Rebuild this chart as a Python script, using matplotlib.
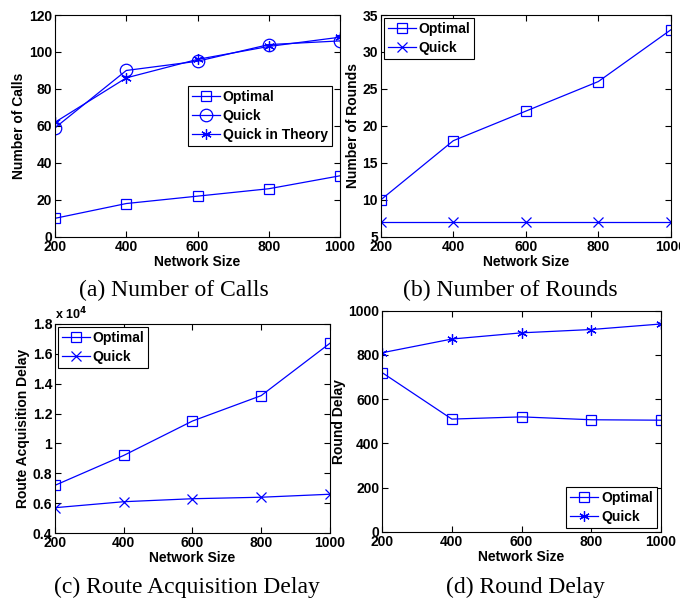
import matplotlib
matplotlib.use('Agg')
import matplotlib.pyplot as plt
from matplotlib.ticker import FuncFormatter

# network sizes
sizes = [200, 400, 600, 800, 1000]

# (a) number of calls
calls_optimal = [10, 18, 22, 26, 33]
calls_quick = [59, 90, 95, 104, 106]
calls_theory = [62, 86, 96, 103, 108]

# (b) number of rounds
rounds_optimal = [10, 18, 22, 26, 33]
rounds_quick = [7, 7, 7, 7, 7]

# (c) route acquisition delay
acq_optimal = [7200, 9200, 11500, 13200, 16700]
acq_quick = [5700, 6100, 6300, 6400, 6600]

# (d) round delay
rdelay_optimal = [720, 510, 520, 507, 505]
rdelay_quick = [810, 872, 900, 915, 940]

plt.rcParams['font.family'] = 'Liberation Sans'
plt.rcParams['font.weight'] = 'bold'
plt.rcParams['font.size'] = 10

fig = plt.figure(figsize=(6.8, 6.01), dpi=100)

ax_a = fig.add_axes([0.081, 0.606, 0.419, 0.369])
ax_b = fig.add_axes([0.560, 0.606, 0.4265, 0.369])
ax_c = fig.add_axes([0.081, 0.113, 0.404, 0.348])
ax_d = fig.add_axes([0.562, 0.115, 0.410, 0.368])

blue = '#0000ff'
ms = 7.5
lw = 0.9
aster = (6, 2, 0)

def style(ax, ylabel):
    ax.set_xlim(200, 1000)
    ax.set_xticks(sizes)
    ax.tick_params(direction='in', top=True, right=True, length=4, width=0.8, labelsize=10, pad=2)
    for lab in ax.get_xticklabels() + ax.get_yticklabels():
        lab.set_fontweight('bold')
    ax.set_xlabel('Network Size', fontsize=10, fontweight='bold', labelpad=1)
    ax.set_ylabel(ylabel, fontsize=10, fontweight='bold', labelpad=2)
    for s in ax.spines.values():
        s.set_linewidth(0.8)

def legend(ax, loc, **kw):
    leg = ax.legend(loc=loc, fancybox=False, edgecolor='black', framealpha=1,
                    prop={'weight': 'bold', 'size': 10}, handlelength=2.0,
                    handletextpad=0.2, borderpad=0.3, labelspacing=0.35, **kw)
    leg.get_frame().set_linewidth(0.8)

fmt = FuncFormatter(lambda v, p: '%g' % v)

# (a)
ax_a.plot(sizes, calls_optimal, color=blue, lw=lw, marker='s', ms=ms, mfc='none', mew=0.9, label='Optimal')
ax_a.plot(sizes, calls_quick, color=blue, lw=lw, marker='o', ms=9, mfc='none', mew=0.9, label='Quick')
ax_a.plot(sizes, calls_theory, color=blue, lw=lw, marker=aster, ms=ms, mew=0.9, label='Quick in Theory')
ax_a.set_ylim(0, 120)
ax_a.set_yticks([0, 20, 40, 60, 80, 100, 120])
style(ax_a, 'Number of Calls')
legend(ax_a, 'center right', bbox_to_anchor=(0.972, 0.545), borderaxespad=0)

# (b)
ax_b.plot(sizes, rounds_optimal, color=blue, lw=lw, marker='s', ms=ms, mfc='none', mew=0.9, label='Optimal')
ax_b.plot(sizes, rounds_quick, color=blue, lw=lw, marker='x', ms=ms, mew=0.9, label='Quick')
ax_b.set_ylim(5, 35)
ax_b.set_yticks([5, 10, 15, 20, 25, 30, 35])
style(ax_b, 'Number of Rounds')
legend(ax_b, 'upper left', borderaxespad=0.2)

# (c)
ax_c.plot(sizes, [v / 1e4 for v in acq_optimal], color=blue, lw=lw, marker='s', ms=ms, mfc='none', mew=0.9, label='Optimal')
ax_c.plot(sizes, [v / 1e4 for v in acq_quick], color=blue, lw=lw, marker='x', ms=ms, mew=0.9, label='Quick')
ax_c.set_ylim(0.4, 1.8)
ax_c.set_yticks([0.4, 0.6, 0.8, 1.0, 1.2, 1.4, 1.6, 1.8])
ax_c.yaxis.set_major_formatter(fmt)
style(ax_c, 'Route Acquisition Delay')
ax_c.text(0.0, 1.01, 'x 10$^4$', transform=ax_c.transAxes, fontsize=9, fontweight='bold', va='bottom', ha='left')
legend(ax_c, 'upper left', borderaxespad=0.2)

# (d)
ax_d.plot(sizes, rdelay_optimal, color=blue, lw=lw, marker='s', ms=ms, mfc='none', mew=0.9, label='Optimal')
ax_d.plot(sizes, rdelay_quick, color=blue, lw=lw, marker=aster, ms=ms, mew=0.9, label='Quick')
ax_d.set_ylim(0, 1000)
ax_d.set_yticks([0, 200, 400, 600, 800, 1000])
style(ax_d, 'Round Delay')
legend(ax_d, 'lower right', borderaxespad=0.3)

# captions
cap = dict(fontsize=17, fontweight='normal', family='Liberation Serif', ha='center', va='center')
fig.text(174 / 680, 1 - 290 / 601, '(a) Number of Calls', **cap)
fig.text(510 / 680, 1 - 290 / 601, '(b) Number of Rounds', **cap)
fig.text(187 / 680, 1 - 587 / 601, '(c) Route Acquisition Delay', **cap)
fig.text(525 / 680, 1 - 587 / 601, '(d) Round Delay', **cap)

fig.savefig('out.png', dpi=100)
